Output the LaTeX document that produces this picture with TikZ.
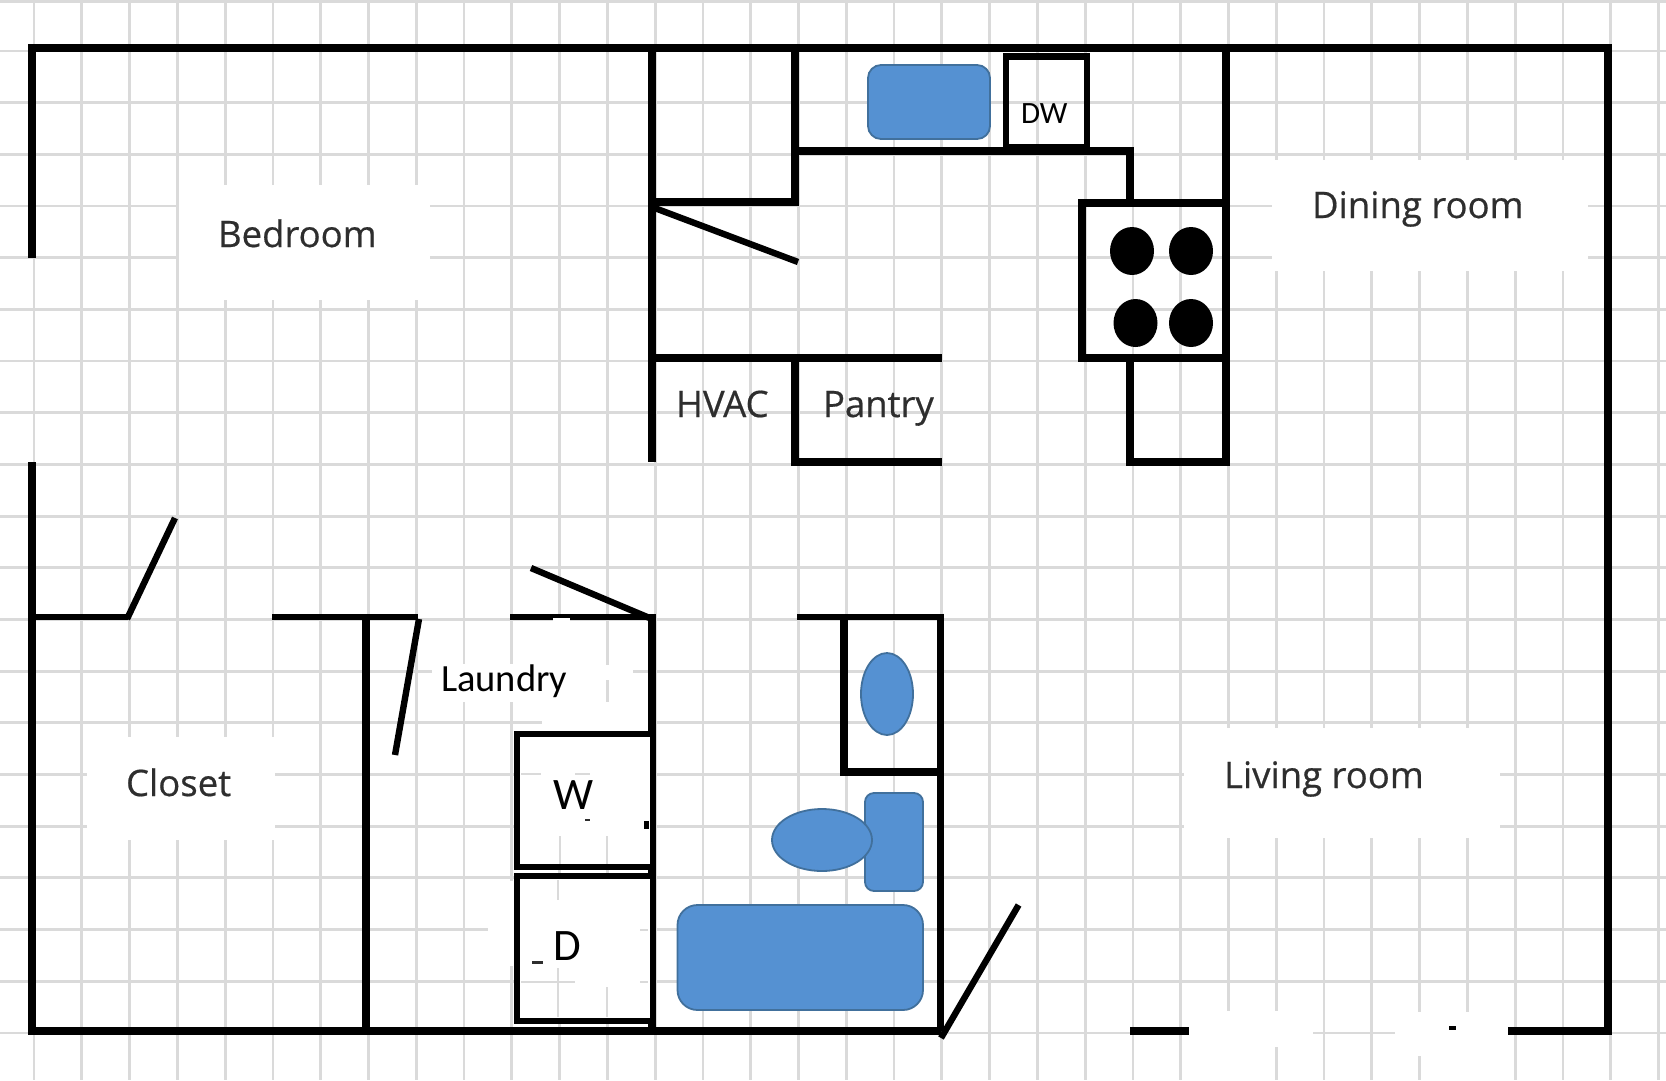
\documentclass[tikz,border=0pt]{standalone}
\usepackage{fontspec}
\setmainfont{Open Sans}
\newfontfamily\carl{Carlito}
\newfontfamily\roomf[FakeBold=0.5]{Open Sans}
\definecolor{gridgrey}{HTML}{DADADA}
\definecolor{fixfill}{HTML}{5591D2}
\definecolor{fixline}{HTML}{41709C}
\definecolor{labelgrey}{HTML}{2E2E2E}
\tikzset{
  gridline/.style={draw=gridgrey,line width=2.8pt},
  patch/.style={fill=white,draw=none},
  wall/.style={draw=black,line width=7.8pt,line join=miter},
  thinwall/.style={draw=black,line width=6.6pt,line join=miter},
  doorleaf/.style={draw=black,line width=6.4pt},
  fixture/.style={fill=fixfill,draw=fixline,line width=1.8pt},
  burner/.style={fill=black,draw=none},
  roomlabel/.style={anchor=base west,inner sep=0pt,outer sep=0pt,text=labelgrey,font=\roomf\fontsize{36.5}{36.5}\selectfont},
  applabel/.style={anchor=base west,inner sep=0pt,outer sep=0pt,text=black,font=\carl\fontsize{45}{45}\selectfont},
}
\begin{document}
\begin{tikzpicture}[x=1pt,y=-1pt]
\useasboundingbox (0,0) rectangle (1666,1080);
\fill[white] (0,0) rectangle (1666,1080);
% graph paper
\foreach \k in {0,...,34} \draw[gridline] ({34+47.78*\k},0) -- ({34+47.78*\k},1080);
\foreach \k in {1,...,20} \draw[gridline] (0,{-0.7+51.68*\k}) -- (1666,{-0.7+51.68*\k});
\draw[gridline] (0,1.5) -- (1666,1.5);
% erased patches behind the labels
\fill[patch] (179,185) rectangle (430,300);
\fill[patch] (1272,160) rectangle (1588,271);
\fill[patch] (1184,728) rectangle (1500,838);
\fill[patch] (87,737) rectangle (275,840);
\fill[patch] (432,664) rectangle (580,702);
\fill[patch] (545,622) rectangle (600,664);
\fill[patch] (593,665) rectangle (633,680);
\fill[patch] (542,702) rectangle (648,731);
\fill[patch] (580,664) rectangle (603,731);
\fill[patch] (488,881) rectangle (514,966);
% erased part of the front wall
\fill[patch] (1189,1011) rectangle (1313,1047);
\fill[patch] (1212,1047) rectangle (1240,1080);
\fill[patch] (1395,1012) rectangle (1508,1047);
\fill[patch] (1403,1047) rectangle (1432,1056);
\fill[patch] (1450,1047) rectangle (1482,1080);
% outer walls
\draw[wall] (32,258) -- (32,48) -- (1608,48) -- (1608,1031) -- (1508,1031);
\draw[wall] (32,462) -- (32,1031) -- (941,1031);
\draw[wall] (1130,1031) -- (1189,1031);
% bedroom / closet / laundry
\draw[thinwall] (32,617) -- (128,617);
\draw[doorleaf] (127,619) -- (175,518);
\draw[thinwall] (272,617) -- (418,617);
\draw[wall] (366,617) -- (366,1031);
\draw[doorleaf] (419,619) -- (395,755);
\draw[thinwall] (510,617) -- (652,617);
\draw[doorleaf] (652,619) -- (531,568);
\draw[wall] (652,614) -- (652,1031);
\fill[patch] (553,618) rectangle (570,623);
% washer and dryer
\draw[thinwall,fill=white] (650,734) -- (517,734) -- (517,867) -- (650,867);
\draw[thinwall,fill=white] (650,876) -- (517,876) -- (517,1021) -- (650,1021);
\draw[gridline,line width=2pt] (560,836) -- (560,864);
\draw[gridline,line width=2pt] (607,836) -- (607,864);
\draw[gridline] (521,774) -- (541,774);
\draw[gridline] (575,774) -- (590,774);
\draw[gridline] (558,880) -- (558,900);
\draw[gridline] (558,968) -- (558,1017);
\draw[gridline,line width=1.6pt] (607,987) -- (607,1017);
\draw[gridline] (521,982) -- (575,982);
\draw[gridline] (640,930) -- (648,930);
\draw[gridline] (640,982) -- (648,982);
\fill[black] (644,821) rectangle (649,829);
\fill[labelgrey] (532,961) rectangle (543,963.5);
\fill[labelgrey] (585,818.5) rectangle (590,820.5);
% closet stack and kitchen
\draw[wall] (652,48) -- (652,462);
\draw[wall] (795,48) -- (795,202) -- (652,202);
\draw[doorleaf] (652,207) -- (798,262);
\draw[wall] (652,358) -- (942,358);
\draw[wall] (942,462) -- (795,462) -- (795,358);
\draw[wall] (795,151) -- (1130,151) -- (1130,203);
\draw[wall] (1226,48) -- (1226,462) -- (1130,462) -- (1130,358);
\draw[wall] (1226,203) -- (1082,203) -- (1082,358) -- (1226,358);
\draw[thinwall] (1006,147) -- (1006,56.5) -- (1087,56.5) -- (1087,147) -- cycle;
\draw[fixture,rounded corners=13pt] (868,65) rectangle (990,139);
\foreach \n/\cx/\cy in {a/1132/251,b/1191/251,c/1135.5/323,d/1191/323}
  \fill[burner] (\cx,\cy) ellipse [x radius=22,y radius=24];
% bathroom
\draw[thinwall] (797,617) -- (940.5,617);
\draw[wall] (940.5,613.5) -- (940.5,1031);
\draw[wall] (940.5,772) -- (844,772) -- (844,617);
\draw[fixture] (887,694) ellipse [x radius=26,y radius=41];
\draw[fixture,rounded corners=9pt] (865,793) rectangle (923,891);
\draw[fixture] (822,840) ellipse [x radius=50,y radius=31];
\draw[fixture,rounded corners=20pt] (677.5,905) rectangle (923,1010);
\draw[doorleaf] (941,1038) -- (1018.6,905);
\fill[black] (1449,1026) rectangle (1456,1030);
% labels
\node[roomlabel] (bedroom) at (218,247) {Bedroom};
\node[roomlabel] (dining) at (1312,218) {Dining room};
\node[roomlabel] (living) at (1224,788) {Living room};
\node[roomlabel] (closet) at (126,796) {Closet};
\node[roomlabel] (hvac) at (676,417) {HVAC};
\node[roomlabel] (pantry) at (823,417) {Pantry};
\node[applabel,font=\carl\fontsize{38.5}{38.5}\selectfont] (laundry) at (441,691) {Laundry};
\node[applabel] (washer) at (553,809) {W};
\node[applabel] (dryer) at (553,960) {D};
\node[applabel,font=\carl\fontsize{31}{31}\selectfont] (dw) at (1021,123) {DW};
\end{tikzpicture}
\end{document}
